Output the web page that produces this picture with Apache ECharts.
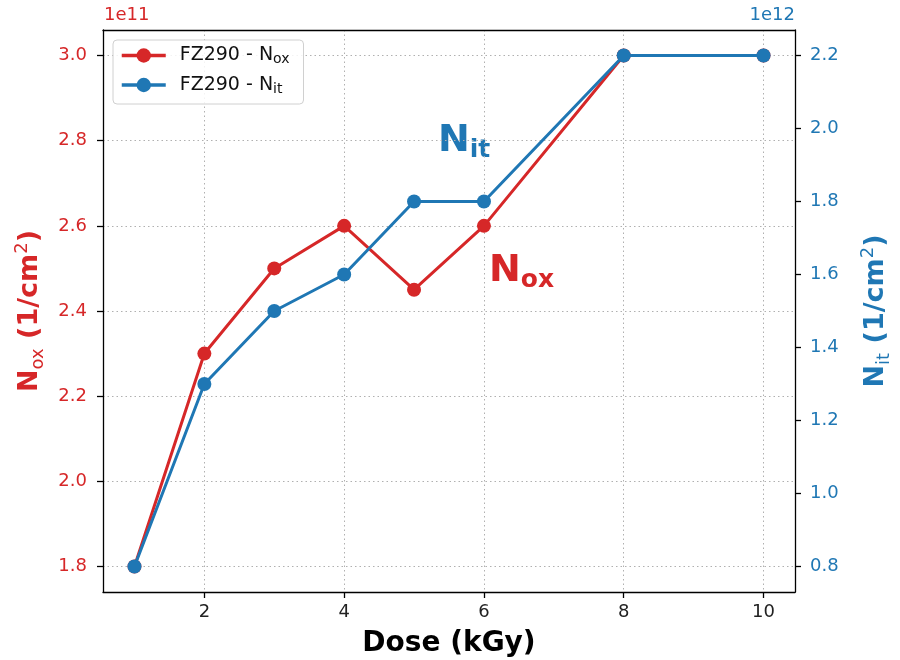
<!DOCTYPE html>
<html>
<head>
<meta charset="utf-8">
<script src="https://cdn.jsdelivr.net/npm/echarts@6/dist/echarts.min.js"></script>
<style>
  html, body { margin: 0; padding: 0; background: #fff; }
  #chart { width: 900px; height: 660px; }
</style>
</head>
<body>
<div id="chart"></div>
<script>
// 剂量 (kGy)
var doses = [1, 2, 3, 4, 5, 6, 8, 10];
// N_ox, 单位 1e11 1/cm^2
var noxValues = [1.8, 2.3, 2.5, 2.6, 2.45, 2.6, 3.0, 3.0];
// N_it, 单位 1e12 1/cm^2
var nitValues = [0.8, 1.3, 1.5, 1.6, 1.8, 1.8, 2.2, 2.2];
var seriesNames = ['FZ290 - Nox', 'FZ290 - Nit'];

var RED = '#d62728',
    BLUE = '#1f77b4',
    FONT = 'DejaVu Sans',
    TICK_FONT = 18;

function pairs(xs, ys) {
    return xs.map(function(x, i) { return [x, ys[i]]; });
}

// 轴名称富文本（下标、上标）
function nameRich(color) {
    return {
        b: { fontFamily: FONT, fontSize: 27, fontWeight: 'bold', color: color, lineHeight: 34, verticalAlign: 'middle' },
        s: { fontFamily: FONT, fontSize: 18, color: color, lineHeight: 14, verticalAlign: 'bottom' },
        u: { fontFamily: FONT, fontSize: 18, color: color, lineHeight: 14, verticalAlign: 'top' }
    };
}

var gridLine = { show: true, lineStyle: { color: '#b0b0b0', type: [1.5, 3], width: 1 } };
var blackLine = { show: true, lineStyle: { color: '#000', width: 1.3 } };
var blackTick = { show: true, length: 6, lineStyle: { color: '#000', width: 1.3 } };

var option = {
    animation: false,
    backgroundColor: '#fff',
    grid: { left: 103, right: 105, top: 30, bottom: 68, outerBoundsMode: 'none' },
    legend: {
        orient: 'vertical',
        left: 113, top: 40,
        padding: [6, 14, 8, 7],
        itemGap: 9,
        itemWidth: 44, itemHeight: 18,
        borderColor: '#d0d0d0', borderWidth: 1, borderRadius: 4,
        backgroundColor: 'rgba(255,255,255,0.85)',
        lineStyle: { width: 3.5 },
        data: seriesNames,
        formatter: function(name) {
            return '{n|FZ290 - N}{s|' + name.slice(-2) + '}';
        },
        textStyle: {
            rich: {
                n: { fontFamily: FONT, fontSize: 19, color: '#111', lineHeight: 22, verticalAlign: 'middle', padding: [0, 0, 0, 9] },
                s: { fontFamily: FONT, fontSize: 14, color: '#111', lineHeight: 12, verticalAlign: 'bottom' }
            }
        }
    },
    xAxis: [{
        type: 'value',
        min: 0.55, max: 10.45,
        splitNumber: 5,
        name: 'Dose (kGy)',
        nameLocation: 'middle',
        nameGap: 38,
        nameTextStyle: { fontFamily: FONT, fontSize: 28, fontWeight: 'bold', color: '#000' },
        axisLine: blackLine,
        axisTick: blackTick,
        axisLabel: { fontFamily: FONT, fontSize: TICK_FONT, color: '#222', margin: 11, showMinLabel: false, showMaxLabel: false },
        splitLine: gridLine
    }, {
        // 上边框
        type: 'value',
        position: 'top',
        min: 0.55, max: 10.45,
        axisLine: blackLine,
        axisTick: { show: false },
        axisLabel: { show: false },
        splitLine: { show: false }
    }],
    yAxis: [{
        type: 'value',
        position: 'left',
        min: 1.74, max: 3.06,
        splitNumber: 6,
        name: '{b|N}{s|ox}{b| (1/cm}{u|2}{b|)}',
        nameLocation: 'middle',
        nameRotate: 90,
        nameGap: 51,
        nameTextStyle: { rich: nameRich(RED) },
        axisLine: blackLine,
        axisTick: blackTick,
        axisLabel: {
            fontFamily: FONT, fontSize: TICK_FONT, color: RED, margin: 16,
            showMinLabel: false, showMaxLabel: false,
            formatter: function(v) { return v.toFixed(1); }
        },
        splitLine: gridLine
    }, {
        type: 'value',
        position: 'right',
        min: 0.73, max: 2.27,
        splitNumber: 7,
        name: '{b|N}{s|it}{b| (1/cm}{u|2}{b|)}',
        nameLocation: 'middle',
        nameRotate: 90,
        nameGap: 64,
        nameTextStyle: { rich: nameRich(BLUE) },
        axisLine: blackLine,
        axisTick: blackTick,
        axisLabel: {
            fontFamily: FONT, fontSize: TICK_FONT, color: BLUE, margin: 15,
            showMinLabel: false, showMaxLabel: false,
            formatter: function(v) { return v.toFixed(1); }
        },
        splitLine: { show: false }
    }],
    series: [{
        name: seriesNames[0],
        type: 'line',
        yAxisIndex: 0,
        data: pairs(doses, noxValues),
        symbol: 'circle', symbolSize: 14,
        lineStyle: { color: RED, width: 3 },
        itemStyle: { color: RED },
        z: 3
    }, {
        name: seriesNames[1],
        type: 'line',
        yAxisIndex: 1,
        data: pairs(doses, nitValues),
        symbol: 'circle', symbolSize: 14,
        lineStyle: { color: BLUE, width: 3 },
        itemStyle: { color: BLUE },
        z: 4
    }],
    graphic: [{
        // 指数偏移文字
        type: 'text', left: 104, top: 6,
        style: { text: '1e11', fontFamily: FONT, fontSize: 18, fill: RED }
    }, {
        type: 'text', right: 105, top: 6,
        style: { text: '1e12', fontFamily: FONT, fontSize: 18, fill: BLUE }
    }, {
        // 曲线标注
        type: 'text', left: 438, top: 122,
        style: {
            text: '{n|N}{s|it}',
            rich: {
                n: { fontFamily: FONT, fontSize: 38, fontWeight: 'bold', fill: BLUE, lineHeight: 44, verticalAlign: 'middle' },
                s: { fontFamily: FONT, fontSize: 25, fontWeight: 'bold', fill: BLUE, lineHeight: 24, verticalAlign: 'bottom' }
            }
        }
    }, {
        type: 'text', left: 489, top: 252,
        style: {
            text: '{n|N}{s|ox}',
            rich: {
                n: { fontFamily: FONT, fontSize: 38, fontWeight: 'bold', fill: RED, lineHeight: 44, verticalAlign: 'middle' },
                s: { fontFamily: FONT, fontSize: 25, fontWeight: 'bold', fill: RED, lineHeight: 24, verticalAlign: 'bottom' }
            }
        }
    }]
};

var chart = echarts.init(document.getElementById('chart'), null, { renderer: 'canvas' });
chart.setOption(option);
</script>
</body>
</html>
